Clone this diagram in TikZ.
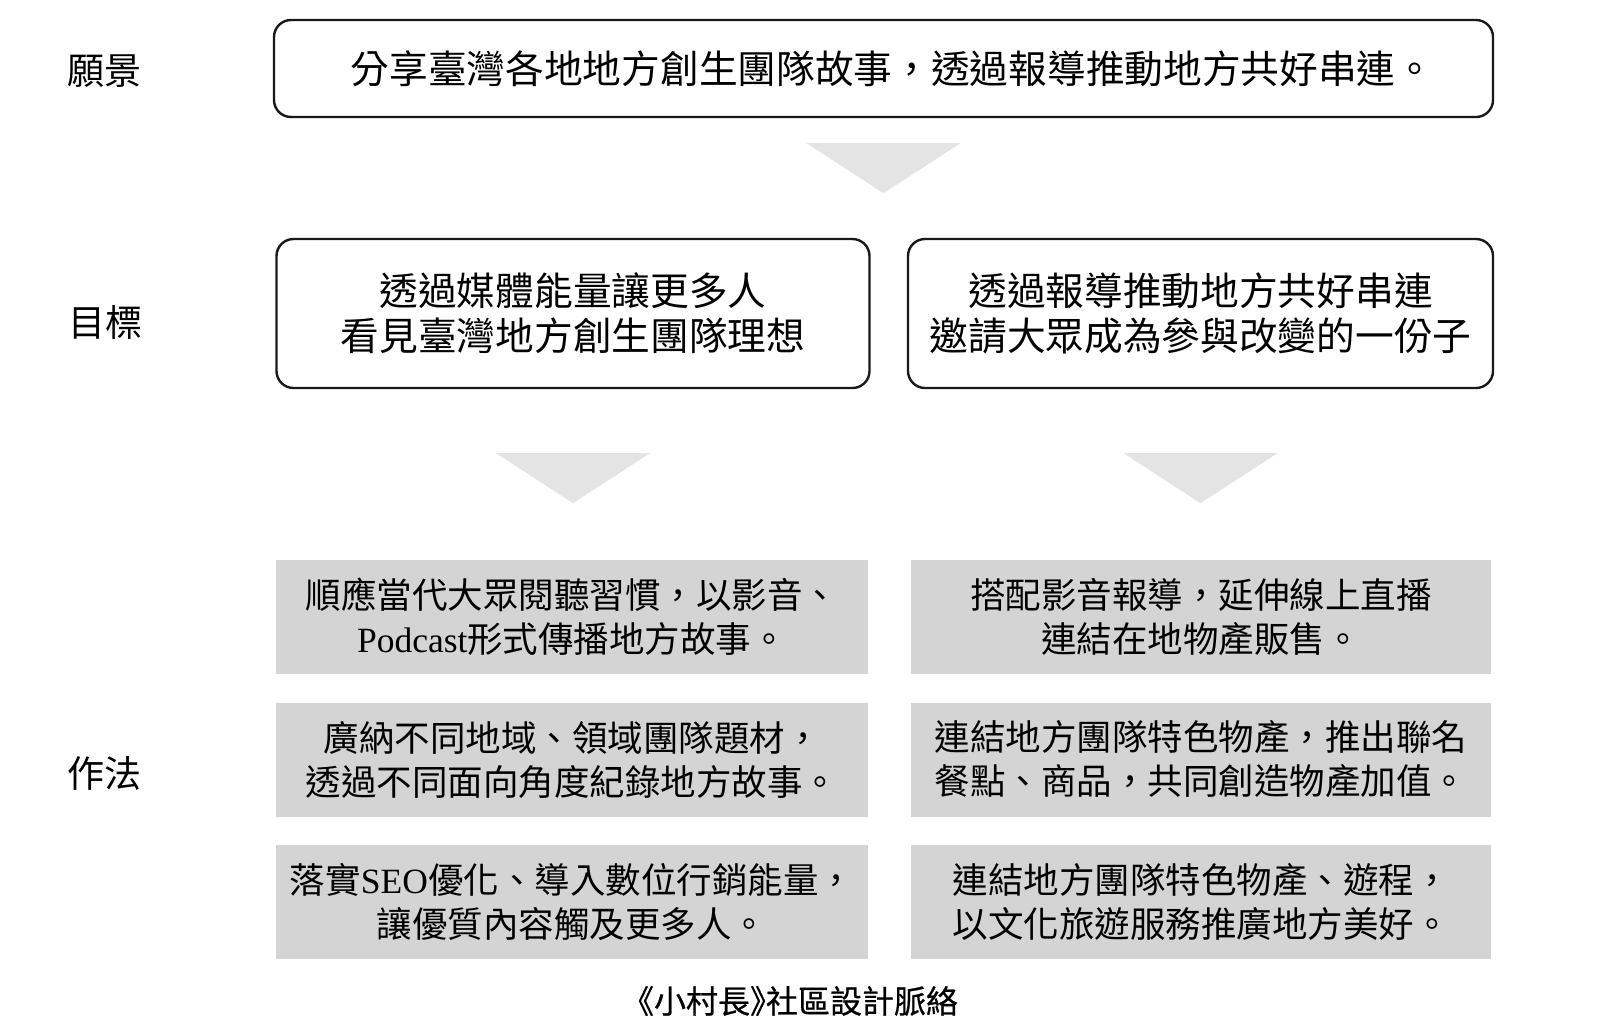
\documentclass[tikz,border=0pt]{standalone}
\usepackage{fontspec}
\setmainfont{Noto Sans CJK TC}
\newfontfamily\latserif{Liberation Serif}
\newfontfamily\capfont{Noto Sans CJK TC}[FakeBold=0.6]
\newfontfamily\halffont{Noto Sans CJK TC}[FakeBold=0.6,RawFeature=+halt]
\usetikzlibrary{calc}
\definecolor{boxgray}{RGB}{212,212,212}
\definecolor{arrowgray}{RGB}{228,228,228}
\tikzset{
  whitebox/.style={draw=black!90, line width=2.4pt, rounded corners=17pt, fill=white,
    align=center, inner sep=0pt, font=\fontsize{38.7}{45}\selectfont},
  graybox/.style={fill=boxgray, draw=none, align=center, inner sep=0pt,
    minimum height=114pt, font=\fontsize{35.5}{44}\selectfont},
  rowlabel/.style={font=\fontsize{37}{40}\selectfont, inner sep=0pt},
  downtri/.style={fill=arrowgray, draw=none}
}
\begin{document}
\begin{tikzpicture}[x=1pt,y=-1pt]
\useasboundingbox (0,0) rectangle (1600,1029);
% row labels
\node[rowlabel] (lv) at (104,71) {願景};
\node[rowlabel] (lg) at (105,322) {目標};
\node[rowlabel] (lm) at (104,773) {作法};
% vision
\node[whitebox, minimum width=1219pt, minimum height=97pt] (vision) at (883.5,68.5)
  {\hspace*{18pt}分享臺灣各地地方創生團隊故事，透過報導推動地方共好串連。};
% goals
\node[whitebox, minimum width=593pt, minimum height=149pt] (goalL) at (573,313.5)
  {透過媒體能量讓更多人\\看見臺灣地方創生團隊理想};
\node[whitebox, minimum width=585pt, minimum height=149pt] (goalR) at (1200.5,313.5)
  {透過報導推動地方共好串連\\邀請大眾成為參與改變的一份子};
% methods
\node[graybox, minimum width=592pt] (mL1) at (572,617)
  {順應當代大眾閱聽習慣，以影音、\\{\latserif Podcast}形式傳播地方故事。};
\node[graybox, minimum width=592pt] (mL2) at (572,759.5)
  {廣納不同地域、領域團隊題材，\\透過不同面向角度紀錄地方故事。};
\node[graybox, minimum width=592pt] (mL3) at (572,901.5)
  {落實{\latserif SEO}優化、導入數位行銷能量，\\讓優質內容觸及更多人。};
\node[graybox, minimum width=580pt] (mR1) at (1201,617)
  {搭配影音報導，延伸線上直播\\連結在地物產販售。};
\node[graybox, minimum width=580pt] (mR2) at (1201,759.5)
  {連結地方團隊特色物產，推出聯名\\餐點、商品，共同創造物產加值。};
\node[graybox, minimum width=580pt] (mR3) at (1201,901.5)
  {連結地方團隊特色物產、遊程，\\以文化旅遊服務推廣地方美好。};
% caption
\node[font=\capfont\fontsize{32}{34}\selectfont, inner sep=0pt] (cap) at (798,1001)
  {{\halffont 《}小村長{\halffont 》}社區設計脈絡};
% triangles (connectors)
\fill[downtri] ($(vision.south)+(-77,25)$) -- ($(vision.south)+(77,25)$) -- ($(vision.south)+(0,75)$) -- cycle;
\fill[downtri] ($(goalL.south)+(-77,64)$) -- ($(goalL.south)+(77,64)$) -- ($(goalL.south)+(0,114)$) -- cycle;
\fill[downtri] ($(goalR.south)+(-77,64)$) -- ($(goalR.south)+(77,64)$) -- ($(goalR.south)+(0,114)$) -- cycle;
\end{tikzpicture}
\end{document}
